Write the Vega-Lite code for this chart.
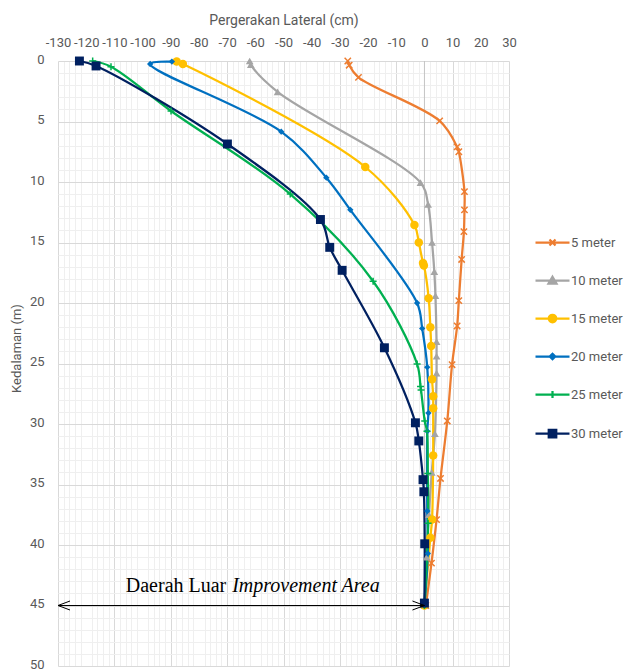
{
  "$schema": "https://vega.github.io/schema/vega-lite/v6.json",
  "width": 451,
  "height": 605,
  "autosize": {"type": "none"},
  "padding": {"left": 58, "top": 61, "right": 121, "bottom": 5},
  "background": "white",
  "config": {
    "view": {"stroke": null},
    "font": "Roboto",
    "axis": {"labelOverlap": false, "labelFlush": false},
    "legend": {"padding": 0}
  },
  "datasets": {
    "pts": [
      {"series": "5 meter", "x": -27.2, "depth": 0},
      {"series": "5 meter", "x": -26.7, "depth": 0.35},
      {"series": "5 meter", "x": -23.4, "depth": 1.35},
      {"series": "5 meter", "x": 5.4, "depth": 4.95},
      {"series": "5 meter", "x": 11.6, "depth": 7.1},
      {"series": "5 meter", "x": 12.2, "depth": 7.5},
      {"series": "5 meter", "x": 14.2, "depth": 10.8},
      {"series": "5 meter", "x": 14.2, "depth": 12.3},
      {"series": "5 meter", "x": 14.0, "depth": 14.1},
      {"series": "5 meter", "x": 13.2, "depth": 16.4},
      {"series": "5 meter", "x": 12.2, "depth": 19.8},
      {"series": "5 meter", "x": 11.6, "depth": 21.9},
      {"series": "5 meter", "x": 9.8, "depth": 25.1},
      {"series": "5 meter", "x": 8.1, "depth": 29.75},
      {"series": "5 meter", "x": 5.7, "depth": 34.5},
      {"series": "5 meter", "x": 4.3, "depth": 37.9},
      {"series": "5 meter", "x": 2.5, "depth": 41.5},
      {"series": "5 meter", "x": 0.5, "depth": 45},
      {"series": "10 meter", "x": -62.0, "depth": 0},
      {"series": "10 meter", "x": -61.6, "depth": 0.3},
      {"series": "10 meter", "x": -52.1, "depth": 2.55},
      {"series": "10 meter", "x": -1.4, "depth": 10.05},
      {"series": "10 meter", "x": 1.3, "depth": 11.85},
      {"series": "10 meter", "x": 2.7, "depth": 15.0},
      {"series": "10 meter", "x": 3.5, "depth": 17.4},
      {"series": "10 meter", "x": 3.9, "depth": 19.4},
      {"series": "10 meter", "x": 4.3, "depth": 23.2},
      {"series": "10 meter", "x": 4.3, "depth": 24.4},
      {"series": "10 meter", "x": 4.3, "depth": 25.8},
      {"series": "10 meter", "x": 3.7, "depth": 30.8},
      {"series": "10 meter", "x": 2.6, "depth": 34.0},
      {"series": "10 meter", "x": 1.6, "depth": 37.5},
      {"series": "10 meter", "x": 0.8, "depth": 41.0},
      {"series": "10 meter", "x": 0.0, "depth": 45},
      {"series": "15 meter", "x": -87.9, "depth": 0.05},
      {"series": "15 meter", "x": -85.7, "depth": 0.25},
      {"series": "15 meter", "x": -21.0, "depth": 8.76},
      {"series": "15 meter", "x": -3.55, "depth": 13.55},
      {"series": "15 meter", "x": -2.0, "depth": 15.0},
      {"series": "15 meter", "x": -0.5, "depth": 16.7},
      {"series": "15 meter", "x": -0.2, "depth": 16.9},
      {"series": "15 meter", "x": 1.5, "depth": 19.6},
      {"series": "15 meter", "x": 2.1, "depth": 22.0},
      {"series": "15 meter", "x": 2.4, "depth": 23.55},
      {"series": "15 meter", "x": 2.7, "depth": 26.3},
      {"series": "15 meter", "x": 3.1, "depth": 27.7},
      {"series": "15 meter", "x": 3.1, "depth": 28.7},
      {"series": "15 meter", "x": 3.1, "depth": 32.6},
      {"series": "15 meter", "x": 2.7, "depth": 37.9},
      {"series": "15 meter", "x": 2.1, "depth": 39.4},
      {"series": "15 meter", "x": 0.0, "depth": 45},
      {"series": "20 meter", "x": -89.6, "depth": 0.05},
      {"series": "20 meter", "x": -97.3, "depth": 0.25},
      {"series": "20 meter", "x": -50.8, "depth": 5.84},
      {"series": "20 meter", "x": -34.8, "depth": 9.64},
      {"series": "20 meter", "x": -26.3, "depth": 12.3},
      {"series": "20 meter", "x": -2.6, "depth": 20.0},
      {"series": "20 meter", "x": -0.8, "depth": 22.1},
      {"series": "20 meter", "x": 1.0, "depth": 25.3},
      {"series": "20 meter", "x": 1.4, "depth": 29.1},
      {"series": "20 meter", "x": 1.0, "depth": 30.6},
      {"series": "20 meter", "x": 1.0, "depth": 37.2},
      {"series": "20 meter", "x": 1.2, "depth": 40.7},
      {"series": "20 meter", "x": 0.0, "depth": 45},
      {"series": "25 meter", "x": -117.7, "depth": 0},
      {"series": "25 meter", "x": -111.2, "depth": 0.47},
      {"series": "25 meter", "x": -89.9, "depth": 4.13},
      {"series": "25 meter", "x": -47.6, "depth": 11.0},
      {"series": "25 meter", "x": -18.2, "depth": 18.2},
      {"series": "25 meter", "x": -2.6, "depth": 25.04},
      {"series": "25 meter", "x": -1.4, "depth": 26.9},
      {"series": "25 meter", "x": -1.2, "depth": 27.2},
      {"series": "25 meter", "x": 0.1, "depth": 29.75},
      {"series": "25 meter", "x": 0.9, "depth": 30.6},
      {"series": "25 meter", "x": 1.2, "depth": 34.1},
      {"series": "25 meter", "x": 1.3, "depth": 38.2},
      {"series": "25 meter", "x": 0.0, "depth": 45},
      {"series": "30 meter", "x": -122.4, "depth": 0},
      {"series": "30 meter", "x": -116.5, "depth": 0.41},
      {"series": "30 meter", "x": -69.9, "depth": 6.86},
      {"series": "30 meter", "x": -36.9, "depth": 13.1},
      {"series": "30 meter", "x": -33.6, "depth": 15.4},
      {"series": "30 meter", "x": -29.2, "depth": 17.3},
      {"series": "30 meter", "x": -14.2, "depth": 23.7},
      {"series": "30 meter", "x": -3.2, "depth": 29.9},
      {"series": "30 meter", "x": -2.0, "depth": 31.4},
      {"series": "30 meter", "x": -0.5, "depth": 34.6},
      {"series": "30 meter", "x": -0.2, "depth": 35.6},
      {"series": "30 meter", "x": 0.1, "depth": 39.9},
      {"series": "30 meter", "x": 0.0, "depth": 44.8}
    ]
  },
  "layer": [
    {
      "data": {"name": "pts"},
      "transform": [{"filter": "datum.depth < -100"}],
      "mark": {"type": "point", "opacity": 0},
      "encoding": {
        "x": {
          "field": "x", "type": "quantitative",
          "scale": {"domain": [-130, 30], "nice": false, "zero": false},
          "axis": {
            "orient": "bottom", "title": null, "labels": false, "ticks": false, "domain": false,
            "grid": true, "gridColor": "#efefef", "gridWidth": 1, "zindex": 0,
            "values": [-128,-126,-124,-122,-118,-116,-114,-112,-108,-106,-104,-102,-98,-96,-94,-92,-88,-86,-84,-82,-78,-76,-74,-72,-68,-66,-64,-62,-58,-56,-54,-52,-48,-46,-44,-42,-38,-36,-34,-32,-28,-26,-24,-22,-18,-16,-14,-12,-8,-6,-4,-2,2,4,6,8,12,14,16,18,22,24,26,28]
          }
        },
        "y": {
          "field": "depth", "type": "quantitative",
          "scale": {"domain": [0, 50], "reverse": true, "nice": false, "zero": false},
          "axis": {
            "orient": "right", "title": null, "labels": false, "ticks": false, "domain": false,
            "grid": true, "gridColor": "#efefef", "gridWidth": 1, "zindex": 0,
            "values": [1,2,3,4,6,7,8,9,11,12,13,14,16,17,18,19,21,22,23,24,26,27,28,29,31,32,33,34,36,37,38,39,41,42,43,44,46,47,48,49]
          }
        }
      }
    },
    {
      "data": {"name": "pts"},
      "transform": [{"filter": "datum.depth < -100"}],
      "mark": {"type": "point", "opacity": 0},
      "encoding": {
        "x": {
          "field": "x", "type": "quantitative",
          "axis": {
            "orient": "top", "title": null, "grid": false, "ticks": false, "tickSize": 0, "domain": false,
            "values": [-120,-100,-80,-60,-40,-20,0,20],
            "labelExpr": "(datum.value < 0 ? '-' : '') + abs(datum.value)",
            "labelFont": "Roboto", "labelFontSize": 13, "labelColor": "#595959", "labelPadding": 12, "labelFlush": false, "zindex": 0
          }
        },
        "y": {"field": "depth", "type": "quantitative", "axis": null}
      }
    },
    {
      "data": {"name": "pts"},
      "layer": [
        {
          "data": {"values": [{}]},
          "mark": {"type": "rule", "stroke": "#c4c4c4", "strokeWidth": 1},
          "encoding": {"x": {"datum": 0}}
        },
        {
          "mark": {"type": "line", "interpolate": "catmull-rom", "strokeWidth": 2.25},
          "encoding": {
            "x": {
              "field": "x", "type": "quantitative",
              "axis": {
                "orient": "top", "title": "Pergerakan Lateral (cm)",
                "values": [-130,-120,-110,-100,-90,-80,-70,-60,-50,-40,-30,-20,-10,0,10,20,30],
                "labelExpr": "datum.value % 20 === 0 ? '' : ((datum.value < 0 ? '-' : '') + abs(datum.value))",
                "grid": true, "gridColor": "#d9d9d9", "domain": false, "ticks": false, "tickSize": 0,
                "labelFont": "Roboto", "labelFontSize": 13, "labelColor": "#595959", "labelPadding": 12, "labelFlush": false, "labelOverlap": false,
                "titleFont": "Roboto", "titleFontSize": 14, "titleFontWeight": "normal", "titleColor": "#595959", "titlePadding": 9, "zindex": 0
              }
            },
            "y": {
              "field": "depth", "type": "quantitative",
              "axis": {
                "orient": "left", "title": "Kedalaman (m)",
                "values": [0,5,10,15,20,25,30,35,40,45,50],
                "grid": true, "gridColor": "#d9d9d9", "domain": false, "ticks": false, "tickSize": 0,
                "labelFont": "Roboto", "labelFontSize": 13, "labelColor": "#595959", "labelPadding": 14, "labelOffset": -2,
                "titleFont": "Roboto", "titleFontSize": 13, "titleFontWeight": "normal", "titleColor": "#595959", "titlePadding": 6, "titleY": 287, "zindex": 0
              }
            },
            "stroke": {
              "field": "series", "type": "nominal",
              "scale": {
                "domain": ["5 meter", "10 meter", "15 meter", "20 meter", "25 meter", "30 meter"],
                "range": ["#ED7D31", "#A5A5A5", "#FFC000", "#0070C0", "#00B050", "#002060"]
              }
            },
            "order": {"field": "depth", "type": "quantitative"}
          }
        },
        {
          "transform": [{"filter": "datum.series === '5 meter'"}],
          "mark": {"type": "point", "shape": "M-1,-1L1,1M-1,1L1,-1", "filled": false, "size": 40, "strokeWidth": 1.5, "opacity": 1},
          "encoding": {
            "x": {"field": "x", "type": "quantitative"},
            "y": {"field": "depth", "type": "quantitative"},
            "stroke": {"field": "series", "type": "nominal"}
          }
        },
        {
          "transform": [{"filter": "datum.series === '10 meter'"}],
          "mark": {"type": "point", "shape": "triangle-up", "filled": true, "size": 60, "opacity": 1},
          "encoding": {
            "x": {"field": "x", "type": "quantitative"},
            "y": {"field": "depth", "type": "quantitative"},
            "fill": {"field": "series", "type": "nominal"}
          }
        },
        {
          "transform": [{"filter": "datum.series === '15 meter'"}],
          "mark": {"type": "point", "shape": "circle", "filled": true, "size": 72, "opacity": 1},
          "encoding": {
            "x": {"field": "x", "type": "quantitative"},
            "y": {"field": "depth", "type": "quantitative"},
            "fill": {"field": "series", "type": "nominal"}
          }
        },
        {
          "transform": [{"filter": "datum.series === '20 meter'"}],
          "mark": {"type": "point", "shape": "diamond", "filled": true, "size": 40, "opacity": 1},
          "encoding": {
            "x": {"field": "x", "type": "quantitative"},
            "y": {"field": "depth", "type": "quantitative"},
            "fill": {"field": "series", "type": "nominal"}
          }
        },
        {
          "transform": [{"filter": "datum.series === '25 meter'"}],
          "mark": {"type": "point", "shape": "M-1,0L1,0M0,-1L0,1", "filled": false, "size": 49, "strokeWidth": 1.5, "opacity": 1},
          "encoding": {
            "x": {"field": "x", "type": "quantitative"},
            "y": {"field": "depth", "type": "quantitative"},
            "stroke": {"field": "series", "type": "nominal"}
          }
        },
        {
          "transform": [{"filter": "datum.series === '30 meter'"}],
          "mark": {"type": "point", "shape": "square", "filled": true, "size": 80, "opacity": 1},
          "encoding": {
            "x": {"field": "x", "type": "quantitative"},
            "y": {"field": "depth", "type": "quantitative"},
            "fill": {"field": "series", "type": "nominal"}
          }
        },
        {
          "transform": [{"filter": "datum.depth < -100"}],
          "mark": {"type": "point", "filled": true, "opacity": 1, "strokeWidth": 2.25},
          "encoding": {
            "x": {"field": "x", "type": "quantitative"},
            "y": {"field": "depth", "type": "quantitative"},
            "fill": {
              "field": "series", "type": "nominal",
              "scale": {
                "domain": ["5 meter", "10 meter", "15 meter", "20 meter", "25 meter", "30 meter"],
                "range": ["#ED7D31", "#A5A5A5", "#FFC000", "#0070C0", "#00B050", "#002060"]
              }
            },
            "stroke": {"field": "series", "type": "nominal"},
            "shape": {
              "field": "series", "type": "nominal",
              "scale": {
                "domain": ["5 meter", "10 meter", "15 meter", "20 meter", "25 meter", "30 meter"],
                "range": [
                  "M-3.4,0L3.4,0M-0.6,-0.6L0.6,0.6M-0.6,0.6L0.6,-0.6",
                  "M-3.4,0L3.4,0M0,-0.75L0.8,0.6L-0.8,0.6Z",
                  "M-3.4,0L3.4,0M-0.75,0A0.75,0.75,0,1,0,0.75,0A0.75,0.75,0,1,0,-0.75,0Z",
                  "M-3.4,0L3.4,0M0,-0.55L0.55,0L0,0.55L-0.55,0Z",
                  "M-3.4,0L3.4,0M0,-0.7L0,0.7",
                  "M-3.4,0L3.4,0M-0.75,-0.75H0.75V0.75H-0.75Z"
                ]
              },
              "legend": {
                "title": null, "orient": "none", "legendX": 488, "legendY": 175,
                "symbolSize": 100, "symbolStrokeWidth": 2.25,
                "labelFont": "Roboto", "labelFontSize": 13, "labelColor": "#595959", "labelOffset": 12,
                "rowPadding": 22, "padding": 0
              }
            }
          }
        },
        {
          "data": {"values": [{}]},
          "mark": {"type": "rule", "stroke": "#000000", "strokeWidth": 1},
          "encoding": {
            "x": {"datum": -130}, "x2": {"datum": 0}, "y": {"datum": 45}
          }
        },
        {
          "data": {"values": [{}]},
          "mark": {"type": "point", "shape": "M2.4,-0.9L0,0L2.4,0.9", "filled": false, "size": 100, "stroke": "#000000", "strokeWidth": 1, "opacity": 1},
          "encoding": {"x": {"datum": -130}, "y": {"datum": 45}}
        },
        {
          "data": {"values": [{}]},
          "mark": {"type": "point", "shape": "M-2.4,-0.9L0,0L-2.4,0.9", "filled": false, "size": 100, "stroke": "#000000", "strokeWidth": 1, "opacity": 1},
          "encoding": {"x": {"datum": 0}, "y": {"datum": 45}}
        },
        {
          "data": {"values": [{}]},
          "mark": {"type": "text", "text": "Daerah Luar", "font": "Liberation Serif", "fontSize": 20, "align": "right", "baseline": "alphabetic", "color": "#000000"},
          "encoding": {"x": {"datum": -70.3}, "y": {"datum": 43.9}}
        },
        {
          "data": {"values": [{}]},
          "mark": {"type": "text", "text": "Improvement Area", "font": "Liberation Serif", "fontSize": 20, "fontStyle": "italic", "align": "left", "baseline": "alphabetic", "color": "#000000"},
          "encoding": {"x": {"datum": -68.2}, "y": {"datum": 43.9}}
        }
      ]
    }
  ],
  "resolve": {"axis": {"x": "independent", "y": "independent"}}
}
